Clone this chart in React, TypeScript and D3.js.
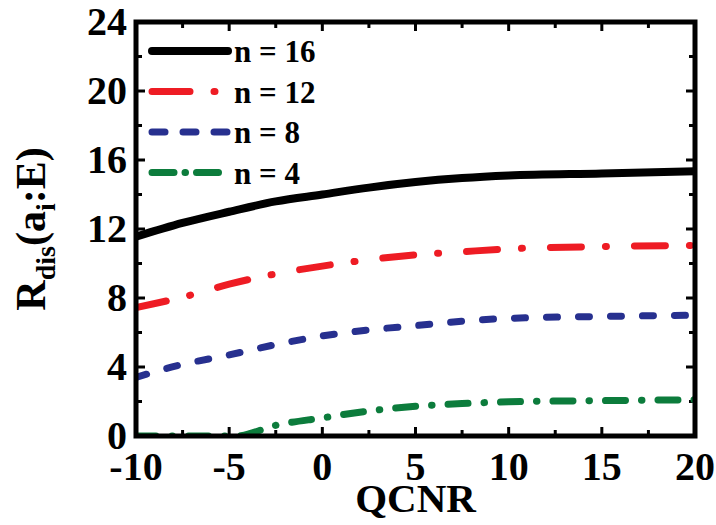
import React from "react";
import * as d3 from "d3";

const qcnr = [-10, -7.5, -5, -2.5, 0, 2.5, 5, 7.5, 10, 15, 20];
const n16 = [11.55, 12.35, 13.0, 13.6, 14.0, 14.4, 14.72, 14.95, 15.1, 15.22, 15.35];
const n12 = [7.45, 8.05, 8.8, 9.4, 9.85, 10.22, 10.5, 10.68, 10.85, 10.98, 11.05];
const n8 = [3.4, 4.15, 4.7, 5.3, 5.8, 6.15, 6.4, 6.65, 6.82, 6.93, 7.0];
const n4x = [-10, -7.5, -4.6, -2.5, 0, 2.5, 5, 7.5, 10, 15, 20];
const n4 = [0, 0, 0, 0.62, 1.05, 1.45, 1.72, 1.88, 1.98, 2.05, 2.1];
const seriesNames = ["n = 16", "n = 12", "n = 8", "n = 4"];
const seriesX = [qcnr, qcnr, qcnr, n4x];
const seriesValues = [n16, n12, n8, n4];
const seriesColors = ["#000000", "#ee1c24", "#27308f", "#0c7c3c"];
const seriesDash = ["none", "31 24 1 28", "11 21", "20 16 0.5 16"];
const legendDash = ["none", "38 24 1 40", "13 18", "22 11 0.5 11"];
const xTicks = [-10, -5, 0, 5, 10, 15, 20];
const yTicks = [0, 4, 8, 12, 16, 20, 24];

const FONT = "'Liberation Serif', 'Times New Roman', serif";

export default function App() {
  const L = 136, R = 695, T = 22, B = 436;
  const x = d3.scaleLinear().domain([-10, 20]).range([L, R]);
  const y = d3.scaleLinear().domain([0, 24]).range([B, T]);
  const line = d3
    .line<[number, number]>()
    .x((d) => x(d[0]))
    .y((d) => y(d[1]))
    .curve(d3.curveMonotoneX);

  const xMinor = d3.range(-10, 20.01, 2.5);
  const yMinor = d3.range(0, 24.01, 2);

  return (
    <svg width={716} height={525} style={{ position: "absolute", left: 0, top: 0 }}>
      <defs>
        <clipPath id="plot">
          <rect x={L} y={T} width={R - L} height={B - T} />
        </clipPath>
      </defs>
      <rect x={0} y={0} width={716} height={525} fill="#fff" />
      {xMinor.map((v) => {
        const major = v % 5 === 0;
        const len = major ? 9 : 6;
        return (
          <g key={"xt" + v}>
            <line x1={x(v)} x2={x(v)} y1={B} y2={B - len} stroke="#000" strokeWidth={3} />
            <line x1={x(v)} x2={x(v)} y1={T} y2={T + len} stroke="#000" strokeWidth={3} />
          </g>
        );
      })}
      {yMinor.map((v) => {
        const major = v % 4 === 0;
        const len = major ? 9 : 6;
        return (
          <g key={"yt" + v}>
            <line x1={L} x2={L + len} y1={y(v)} y2={y(v)} stroke="#000" strokeWidth={3} />
            <line x1={R} x2={R - len} y1={y(v)} y2={y(v)} stroke="#000" strokeWidth={3} />
          </g>
        );
      })}
      <g clipPath="url(#plot)">
        {seriesValues.map((vals, i) => (
          <path
            key={"s" + i}
            d={line(seriesX[i].map((q, j) => [q, vals[j]] as [number, number])) || ""}
            fill="none"
            stroke={seriesColors[i]}
            strokeWidth={i === 0 ? 8 : 7}
            strokeDasharray={seriesDash[i]}
            strokeLinecap={i === 0 ? "butt" : "round"}
          />
        ))}
      </g>
      <rect x={L} y={T} width={R - L} height={B - T} fill="none" stroke="#000" strokeWidth={5} />
      {xTicks.map((v) => (
        <text key={"xl" + v} x={x(v)} y={480} textAnchor="middle" fontFamily={FONT} fontWeight="bold" fontSize={40}>
          {v}
        </text>
      ))}
      {yTicks.map((v) => (
        <text key={"yl" + v} x={L - 9} y={y(v) + 13} textAnchor="end" fontFamily={FONT} fontWeight="bold" fontSize={40}>
          {v}
        </text>
      ))}
      <text x={(L + R) / 2} y={512} textAnchor="middle" fontFamily={FONT} fontWeight="bold" fontSize={41}>
        QCNR
      </text>
      <text
        transform={`translate(45, ${(T + B) / 2}) rotate(-90)`}
        textAnchor="middle"
        fontFamily={FONT}
        fontWeight="bold"
        fontSize={42}
      >
        <tspan>R</tspan>
        <tspan fontSize={28} dy={10}>dis</tspan>
        <tspan dy={-10}>(a</tspan>
        <tspan fontSize={28} dy={10}>i</tspan>
        <tspan dy={-10}>:E)</tspan>
      </text>
      {seriesNames.map((name, i) => {
        const ly = 51 + i * 40.5;
        return (
          <g key={"lg" + i}>
            <line
              x1={152}
              x2={228}
              y1={ly}
              y2={ly}
              stroke={seriesColors[i]}
              strokeWidth={i === 0 ? 8 : 7}
              strokeDasharray={legendDash[i]}
              strokeLinecap="round"
            />
            <text x={234} y={ly + 11} fontFamily={FONT} fontWeight="bold" fontSize={31}>
              {name}
            </text>
          </g>
        );
      })}
    </svg>
  );
}
